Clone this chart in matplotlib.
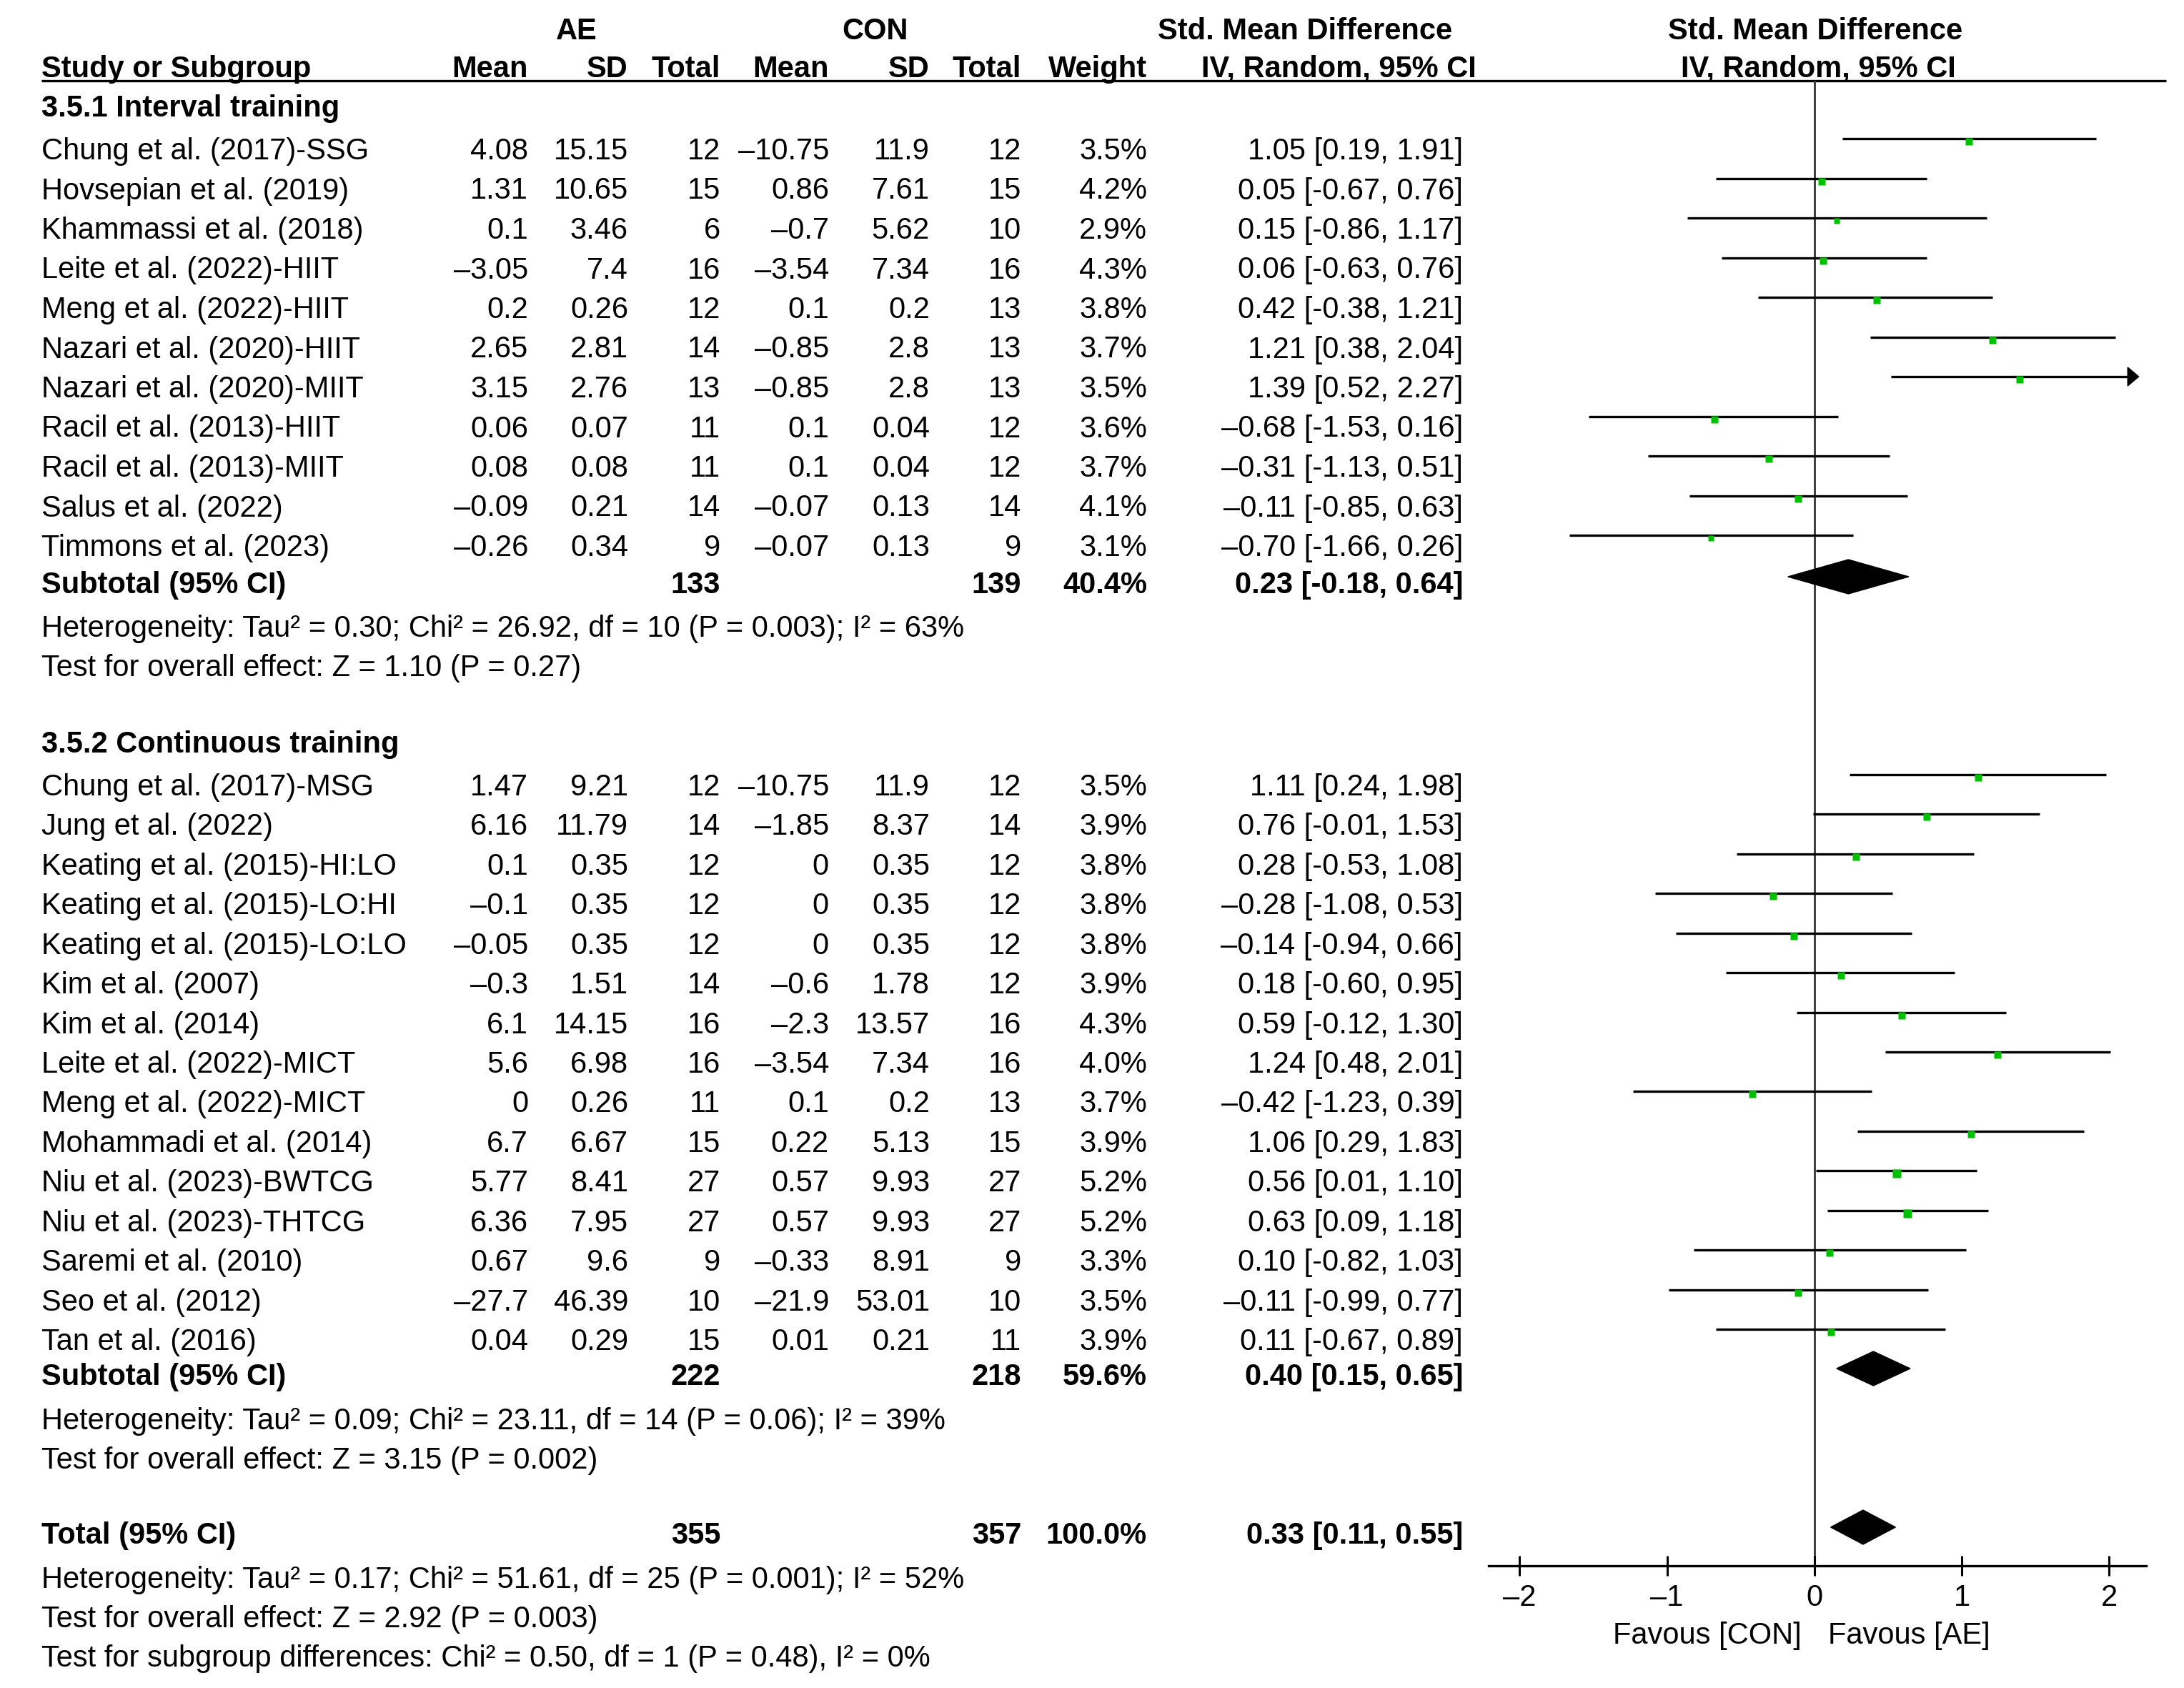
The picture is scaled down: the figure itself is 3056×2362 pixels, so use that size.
import matplotlib
matplotlib.use("Agg")
import matplotlib.pyplot as plt
from matplotlib.patches import Polygon
import numpy as np

plt.rcParams['font.family'] = ['Liberation Sans', 'DejaVu Sans']

# ---------------- data ----------------
g1_title = "3.5.1 Interval training"
g1_names = ["Chung et al. (2017)-SSG", "Hovsepian et al. (2019)", "Khammassi et al. (2018)",
            "Leite et al. (2022)-HIIT", "Meng et al. (2022)-HIIT", "Nazari et al. (2020)-HIIT",
            "Nazari et al. (2020)-MIIT", "Racil et al. (2013)-HIIT", "Racil et al. (2013)-MIIT",
            "Salus et al. (2022)", "Timmons et al. (2023)"]
g1_ae_mean = [4.08, 1.31, 0.1, -3.05, 0.2, 2.65, 3.15, 0.06, 0.08, -0.09, -0.26]
g1_ae_sd = [15.15, 10.65, 3.46, 7.4, 0.26, 2.81, 2.76, 0.07, 0.08, 0.21, 0.34]
g1_ae_n = [12, 15, 6, 16, 12, 14, 13, 11, 11, 14, 9]
g1_con_mean = [-10.75, 0.86, -0.7, -3.54, 0.1, -0.85, -0.85, 0.1, 0.1, -0.07, -0.07]
g1_con_sd = [11.9, 7.61, 5.62, 7.34, 0.2, 2.8, 2.8, 0.04, 0.04, 0.13, 0.13]
g1_con_n = [12, 15, 10, 16, 13, 13, 13, 12, 12, 14, 9]
g1_weight = [3.5, 4.2, 2.9, 4.3, 3.8, 3.7, 3.5, 3.6, 3.7, 4.1, 3.1]
g1_smd = [1.05, 0.05, 0.15, 0.06, 0.42, 1.21, 1.39, -0.68, -0.31, -0.11, -0.70]
g1_lo = [0.19, -0.67, -0.86, -0.63, -0.38, 0.38, 0.52, -1.53, -1.13, -0.85, -1.66]
g1_hi = [1.91, 0.76, 1.17, 0.76, 1.21, 2.04, 2.27, 0.16, 0.51, 0.63, 0.26]
g1_sub = dict(ae_n=133, con_n=139, weight=40.4, smd=0.23, lo=-0.18, hi=0.64)
g1_het = "Heterogeneity: Tau² = 0.30; Chi² = 26.92, df = 10 (P = 0.003); I² = 63%"
g1_test = "Test for overall effect: Z = 1.10 (P = 0.27)"

g2_title = "3.5.2 Continuous training"
g2_names = ["Chung et al. (2017)-MSG", "Jung et al. (2022)", "Keating et al. (2015)-HI:LO",
            "Keating et al. (2015)-LO:HI", "Keating et al. (2015)-LO:LO", "Kim et al. (2007)",
            "Kim et al. (2014)", "Leite et al. (2022)-MICT", "Meng et al. (2022)-MICT",
            "Mohammadi et al. (2014)", "Niu et al. (2023)-BWTCG", "Niu et al. (2023)-THTCG",
            "Saremi et al. (2010)", "Seo et al. (2012)", "Tan et al. (2016)"]
g2_ae_mean = [1.47, 6.16, 0.1, -0.1, -0.05, -0.3, 6.1, 5.6, 0, 6.7, 5.77, 6.36, 0.67, -27.7, 0.04]
g2_ae_sd = [9.21, 11.79, 0.35, 0.35, 0.35, 1.51, 14.15, 6.98, 0.26, 6.67, 8.41, 7.95, 9.6, 46.39, 0.29]
g2_ae_n = [12, 14, 12, 12, 12, 14, 16, 16, 11, 15, 27, 27, 9, 10, 15]
g2_con_mean = [-10.75, -1.85, 0, 0, 0, -0.6, -2.3, -3.54, 0.1, 0.22, 0.57, 0.57, -0.33, -21.9, 0.01]
g2_con_sd = [11.9, 8.37, 0.35, 0.35, 0.35, 1.78, 13.57, 7.34, 0.2, 5.13, 9.93, 9.93, 8.91, 53.01, 0.21]
g2_con_n = [12, 14, 12, 12, 12, 12, 16, 16, 13, 15, 27, 27, 9, 10, 11]
g2_weight = [3.5, 3.9, 3.8, 3.8, 3.8, 3.9, 4.3, 4.0, 3.7, 3.9, 5.2, 5.2, 3.3, 3.5, 3.9]
g2_smd = [1.11, 0.76, 0.28, -0.28, -0.14, 0.18, 0.59, 1.24, -0.42, 1.06, 0.56, 0.63, 0.10, -0.11, 0.11]
g2_lo = [0.24, -0.01, -0.53, -1.08, -0.94, -0.60, -0.12, 0.48, -1.23, 0.29, 0.01, 0.09, -0.82, -0.99, -0.67]
g2_hi = [1.98, 1.53, 1.08, 0.53, 0.66, 0.95, 1.30, 2.01, 0.39, 1.83, 1.10, 1.18, 1.03, 0.77, 0.89]
g2_sub = dict(ae_n=222, con_n=218, weight=59.6, smd=0.40, lo=0.15, hi=0.65)
g2_het = "Heterogeneity: Tau² = 0.09; Chi² = 23.11, df = 14 (P = 0.06); I² = 39%"
g2_test = "Test for overall effect: Z = 3.15 (P = 0.002)"

tot = dict(ae_n=355, con_n=357, weight=100.0, smd=0.33, lo=0.11, hi=0.55)
tot_het = "Heterogeneity: Tau² = 0.17; Chi² = 51.61, df = 25 (P = 0.001); I² = 52%"
tot_test = "Test for overall effect: Z = 2.92 (P = 0.003)"
tot_sub = "Test for subgroup differences: Chi² = 0.50, df = 1 (P = 0.48), I² = 0%"

x_ticks = [-2, -1, 0, 1, 2]
x_ticklabels = ["–2", "–1", "0", "1", "2"]
fav_left = "Favous [CON]"
fav_right = "Favous [AE]"

# ---------------- layout ----------------
W, H, DPI = 3056, 2362, 100
FS = 30
fig = plt.figure(figsize=(W / DPI, H / DPI), dpi=DPI)
tab = fig.add_axes([0, 0, 1, 1])
tab.set_xlim(0, W)
tab.set_ylim(H, 0)
tab.axis('off')

# columns (right edges, px)
X_NAME = 58
X_AE_MEAN, X_AE_SD, X_AE_N = 739, 879, 1008
X_CON_MEAN, X_CON_SD, X_CON_N = 1160, 1301, 1429
X_W, X_CI = 1605, 2047

AXIS_Y = 2191
TOP_Y = 113
F_X0, F_X1 = 2083, 3003
ax = fig.add_axes([F_X0 / W, 1 - AXIS_Y / H, (F_X1 - F_X0) / W, (AXIS_Y - TOP_Y) / H])
ax.set_xlim(-2.21, 2.25)
ax.set_ylim(AXIS_Y, TOP_Y)
ax.patch.set_alpha(0)
for s in ['top', 'left', 'right']:
    ax.spines[s].set_visible(False)
ax.spines['bottom'].set_linewidth(2.4)
ax.spines['bottom'].set_color('black')
ax.set_yticks([])
ax.set_xticks(x_ticks)
ax.set_xticklabels(x_ticklabels)
ax.tick_params(axis='x', direction='inout', length=20, width=2.2, labelsize=FS, pad=8, colors='black')
ax.axvline(0, color='#333333', lw=2.0, zorder=1)


def fmt(v):
    return f"{v:g}".replace('-', '–')


def txt(x, y, s, ha='left', bold=False, size=FS):
    tab.text(x, y, s, ha=ha, va='baseline', fontsize=size,
             fontweight='bold' if bold else 'normal', color='black')


# header
txt(807, 55, "AE", ha='center', bold=True)
txt(1224, 55, "CON", ha='center', bold=True)
txt(2032, 55, "Std. Mean Difference", ha='right', bold=True)
txt(2540, 55, "Std. Mean Difference", ha='center', bold=True)
txt(X_NAME, 108, "Study or Subgroup", bold=True)
for x, s in [(X_AE_MEAN, "Mean"), (X_AE_SD, "SD"), (X_AE_N, "Total"), (X_CON_MEAN, "Mean"),
             (X_CON_SD, "SD"), (X_CON_N, "Total"), (X_W, "Weight"), (2066, "IV, Random, 95% CI")]:
    txt(x, 108, s, ha='right', bold=True)
txt(2544, 108, "IV, Random, 95% CI", ha='center', bold=True)
tab.plot([58, 3031], [TOP_Y, TOP_Y], color='black', lw=2.4, solid_capstyle='butt')

CLIP = 2.2


def study_row(y, name, am, asd, an, cm, csd, cn, w, smd, lo, hi):
    txt(X_NAME, y, name)
    txt(X_AE_MEAN, y, fmt(am), ha='right')
    txt(X_AE_SD, y, fmt(asd), ha='right')
    txt(X_AE_N, y, str(an), ha='right')
    txt(X_CON_MEAN, y, fmt(cm), ha='right')
    txt(X_CON_SD, y, fmt(csd), ha='right')
    txt(X_CON_N, y, str(cn), ha='right')
    txt(X_W, y, f"{w:.1f}%", ha='right')
    s = f"{smd:.2f} [{lo:.2f}, {hi:.2f}]"
    if s.startswith('-'):
        s = '–' + s[1:]
    txt(X_CI, y, s, ha='right')
    yl = y - 29
    end = min(hi, CLIP)
    if hi > CLIP:
        head = 0.075
        ax.plot([lo, end - head], [yl, yl], color='black', lw=2.4, solid_capstyle='butt', zorder=2)
        ax.add_patch(Polygon([(end - head, yl - 13), (end, yl), (end - head, yl + 13)],
                             closed=True, color='black', zorder=2))
    else:
        ax.plot([lo, end], [yl, yl], color='black', lw=2.4, solid_capstyle='butt', zorder=2)
    ms = 7.0 * np.sqrt(w / 3.8)
    ax.plot([smd], [y - 25], marker='s', ms=ms, color='#00c000', mec='none', zorder=3)


def summary_row(y, label, d):
    txt(X_NAME, y, label, bold=True)
    txt(X_AE_N, y, str(d['ae_n']), ha='right', bold=True)
    txt(X_CON_N, y, str(d['con_n']), ha='right', bold=True)
    txt(X_W, y, f"{d['weight']:.1f}%", ha='right', bold=True)
    txt(X_CI, y, f"{d['smd']:.2f} [{d['lo']:.2f}, {d['hi']:.2f}]", ha='right', bold=True)
    yc = y - 23
    ax.add_patch(Polygon([(d['lo'], yc), (d['smd'], yc - 24), (d['hi'], yc), (d['smd'], yc + 24)],
                         closed=True, color='black', zorder=3))


# group 1
txt(X_NAME, 163, g1_title, bold=True)
for i in range(len(g1_names)):
    study_row(223 + 55.5 * i, g1_names[i], g1_ae_mean[i], g1_ae_sd[i], g1_ae_n[i],
              g1_con_mean[i], g1_con_sd[i], g1_con_n[i], g1_weight[i], g1_smd[i], g1_lo[i], g1_hi[i])
summary_row(830, "Subtotal (95% CI)", g1_sub)
txt(X_NAME, 891, g1_het)
txt(X_NAME, 946, g1_test)

# group 2
txt(X_NAME, 1053, g2_title, bold=True)
for i in range(len(g2_names)):
    study_row(1113 + 55.43 * i, g2_names[i], g2_ae_mean[i], g2_ae_sd[i], g2_ae_n[i],
              g2_con_mean[i], g2_con_sd[i], g2_con_n[i], g2_weight[i], g2_smd[i], g2_lo[i], g2_hi[i])
summary_row(1938, "Subtotal (95% CI)", g2_sub)
txt(X_NAME, 2000, g2_het)
txt(X_NAME, 2055, g2_test)

# total
summary_row(2160, "Total (95% CI)", tot)
txt(X_NAME, 2222, tot_het)
txt(X_NAME, 2277, tot_test)
txt(X_NAME, 2332, tot_sub)

txt(2389, 2300, fav_left, ha='center')
txt(2671, 2300, fav_right, ha='center')

fig.savefig("out.png", dpi=DPI)
